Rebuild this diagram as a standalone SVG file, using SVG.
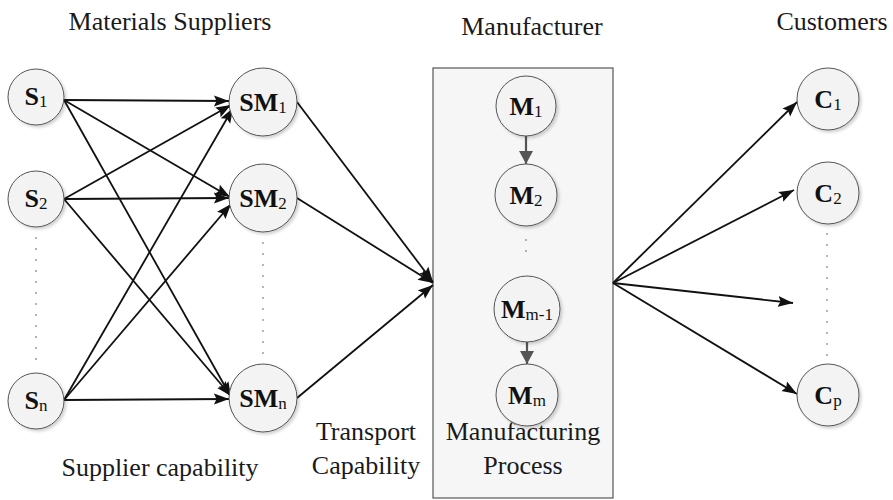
<svg xmlns="http://www.w3.org/2000/svg" width="893" height="500" viewBox="0 0 893 500">
<style>
text{font-family:'Liberation Serif','Times New Roman',Times,serif}
.t{font-size:26px;fill:#1a1a1a;text-anchor:middle}
.lb{font-size:26px;font-weight:bold;fill:#111;text-anchor:middle}
.sb{font-size:17px;font-weight:normal}
.nd{fill:#f3f3f3;stroke:#555;stroke-width:1;filter:url(#sh)}
.e{stroke:#111;stroke-width:1.8;fill:none;marker-end:url(#ah)}
.m{stroke:#555;stroke-width:2.2;fill:none;marker-end:url(#ahg)}
.d{stroke:#555;stroke-width:1.6;stroke-linecap:round;stroke-dasharray:0 11;fill:none}
</style>
<defs>
<filter id="sh" x="-20%" y="-20%" width="150%" height="150%">
<feDropShadow dx="2" dy="2" stdDeviation="1.5" flood-color="#000" flood-opacity="0.18"/>
</filter>
<marker id="ah" markerUnits="userSpaceOnUse" markerWidth="16" markerHeight="12" refX="15" refY="6" orient="auto">
<path d="M0,0.5 L15,6 L0,11.5 L2.5,6 z" fill="#111"/>
</marker>
<marker id="ahg" markerUnits="userSpaceOnUse" markerWidth="14" markerHeight="14" refX="13" refY="7" orient="auto">
<path d="M0,0 L13,7 L0,14 z" fill="#555"/>
</marker>
</defs>
<rect width="893" height="500" fill="#fff"/>

<g id="titles">
<text class="t" x="170" y="30">Materials Suppliers</text>
<text class="t" x="532" y="35">Manufacturer</text>
<text class="t" x="832" y="30">Customers</text>
<text class="t" x="160" y="476">Supplier capability</text>
<text class="t" x="366" y="440">Transport</text>
<text class="t" x="366" y="474">Capability</text>
</g>

<g id="manufacturer">
<rect x="433" y="68" width="180" height="430" fill="#f6f6f6" stroke="#555" stroke-width="1.2"/>
<text class="t" x="523" y="440">Manufacturing</text>
<text class="t" x="523" y="474">Process</text>
</g>

<g id="connectors">
<line class="e" x1="64" y1="100" x2="229" y2="101"/>
<line class="e" x1="64" y1="100" x2="230" y2="197"/>
<line class="e" x1="64" y1="100" x2="231" y2="397"/>
<line class="e" x1="64" y1="199" x2="231" y2="105"/>
<line class="e" x1="64" y1="199" x2="229" y2="198"/>
<line class="e" x1="64" y1="199" x2="231" y2="396"/>
<line class="e" x1="64" y1="400" x2="233" y2="108"/>
<line class="e" x1="64" y1="400" x2="231" y2="204"/>
<line class="e" x1="64" y1="400" x2="229" y2="399"/>
<line class="e" x1="297" y1="102" x2="433" y2="282"/>
<line class="e" x1="297" y1="198" x2="433" y2="283"/>
<line class="e" x1="297" y1="398" x2="433" y2="285"/>
<line class="e" x1="613" y1="283" x2="797" y2="102"/>
<line class="e" x1="613" y1="283" x2="794" y2="190"/>
<line class="e" x1="613" y1="283" x2="793" y2="303"/>
<line class="e" x1="613" y1="283" x2="797" y2="394"/>
<line class="m" x1="526" y1="136" x2="526" y2="164"/>
<line class="m" x1="527" y1="341" x2="527" y2="364"/>
<line class="d" x1="36" y1="238" x2="36" y2="370"/>
<line class="d" x1="263" y1="243" x2="263" y2="354"/>
<line class="d" x1="526" y1="240" x2="526" y2="262"/>
<line class="d" x1="827" y1="234" x2="827" y2="358"/>
</g>

<g id="S1"><circle class="nd" cx="36" cy="97" r="28"/><text class="lb" x="36" y="105">S<tspan class="sb" dy="2">1</tspan></text></g>
<g id="S2"><circle class="nd" cx="36" cy="199" r="28"/><text class="lb" x="36" y="207">S<tspan class="sb" dy="2">2</tspan></text></g>
<g id="Sn"><circle class="nd" cx="36" cy="401" r="28"/><text class="lb" x="36" y="409">S<tspan class="sb" dy="2">n</tspan></text></g>

<g id="SM1"><circle class="nd" cx="263" cy="102" r="34"/><text class="lb" x="263" y="111">SM<tspan class="sb" dy="2">1</tspan></text></g>
<g id="SM2"><circle class="nd" cx="263" cy="198" r="34"/><text class="lb" x="263" y="207">SM<tspan class="sb" dy="2">2</tspan></text></g>
<g id="SMn"><circle class="nd" cx="263" cy="398" r="34"/><text class="lb" x="263" y="407">SM<tspan class="sb" dy="2">n</tspan></text></g>

<g id="M1"><circle class="nd" cx="526" cy="106" r="30"/><text class="lb" x="526" y="115">M<tspan class="sb" dy="2">1</tspan></text></g>
<g id="M2"><circle class="nd" cx="526" cy="195" r="31"/><text class="lb" x="526" y="204">M<tspan class="sb" dy="2">2</tspan></text></g>
<g id="Mm-1"><circle class="nd" cx="527" cy="309" r="33"/><text class="lb" x="527" y="318">M<tspan class="sb" dy="2">m-1</tspan></text></g>
<g id="Mm"><circle class="nd" cx="527" cy="395" r="31"/><text class="lb" x="527" y="404">M<tspan class="sb" dy="2">m</tspan></text></g>

<g id="C1"><circle class="nd" cx="828" cy="99" r="31"/><text class="lb" x="828" y="108">C<tspan class="sb" dy="2">1</tspan></text></g>
<g id="C2"><circle class="nd" cx="828" cy="193" r="31"/><text class="lb" x="828" y="202">C<tspan class="sb" dy="2">2</tspan></text></g>
<g id="Cp"><circle class="nd" cx="828" cy="395" r="31"/><text class="lb" x="828" y="404">C<tspan class="sb" dy="2">p</tspan></text></g>
</svg>
